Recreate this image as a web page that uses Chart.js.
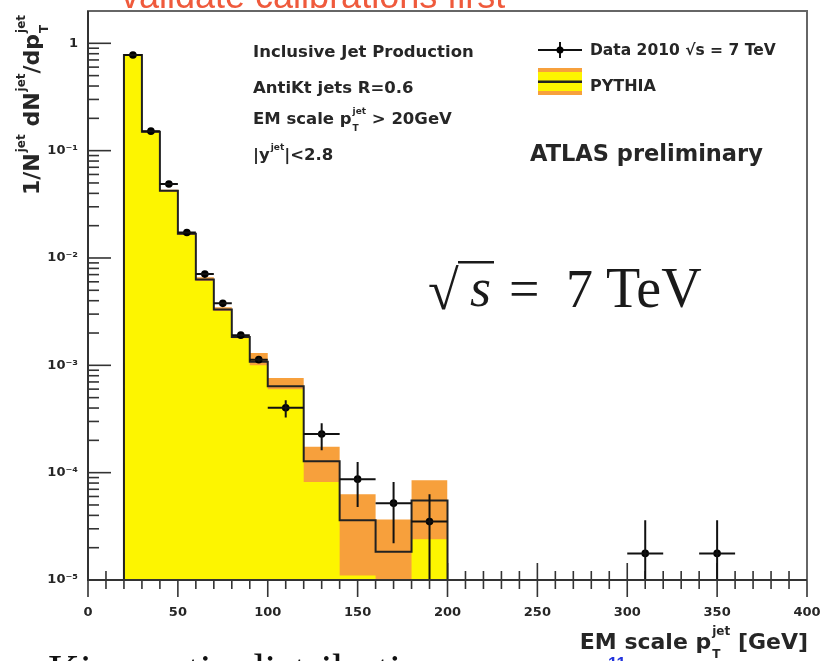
<!DOCTYPE html>
<html><head><meta charset="utf-8">
<script src="https://cdn.jsdelivr.net/npm/chart.js@4.4.1/dist/chart.umd.min.js"></script>
<style>html,body{margin:0;padding:0;background:#fff;}#wrap{width:823px;height:661px;position:relative;overflow:hidden}</style>
</head><body><div id="wrap"><canvas id="c" width="823" height="661"></canvas></div>
<script>
// ---- data ----
const binEdges = [20,30,40,50,60,70,80,90,100,120,140,160,180,200];
const pythia       = [0.78,0.150,0.0423,0.0168,0.0063,0.00332,0.00184,0.00108,0.00064,0.000128,3.6e-5,1.83e-5,5.5e-5];
const pythiaBandLo = [0.765,0.147,0.0413,0.0164,0.0061,0.00320,0.00179,0.00100,0.00060,8.2e-5,1.1e-5,5e-6,2.4e-5];
const pythiaBandHi = [0.795,0.153,0.0433,0.0172,0.0066,0.00348,0.00192,0.00130,0.00076,0.000174,6.3e-5,3.66e-5,8.5e-5];

const dataX    = [25,35,45,55,65,75,85,95,110,130,150,170,190,310,350];
const dataXErr = [5,5,5,5,5,5,5,5,10,10,10,10,10,10,10];
const dataY    = [0.778,0.152,0.0489,0.0173,0.00708,0.00378,0.00191,0.00113,0.000402,0.000229,8.7e-5,5.2e-5,3.5e-5,1.77e-5,1.77e-5];
const dataYHi  = [0.79,0.155,0.0497,0.0176,0.0072,0.00386,0.00196,0.00118,0.000474,0.000288,0.000126,8.2e-5,6.3e-5,3.6e-5,3.6e-5];
const dataYLo  = [0.766,0.149,0.0481,0.0170,0.00696,0.00370,0.00186,0.00108,0.000327,0.000162,4.8e-5,2.2e-5,1e-6,1e-6,1e-6];

const xTickValues = [0,50,100,150,200,250,300,350,400];
const yDecades = [-5,-4,-3,-2,-1,0];

const infoLines = [
  ['Inclusive Jet Production'],
  ['AntiKt jets R=0.6'],
  ['EM scale p', {sup:'jet', sub:'T'}, ' > 20GeV'],
  ['|y', {sup:'jet'}, '|<2.8']
];
const legendData = 'Data 2010 \u221As = 7 TeV';
const legendMC = 'PYTHIA';
const atlasLabel = 'ATLAS preliminary';
const yTitle = ['1/N', {sup:'jet'}, ' dN', {sup:'jet'}, '/dp', {sup:'jet', sub:'T'}];
const xTitle = ['EM scale p', {sup:'jet', sub:'T'}, ' [GeV]'];
const slideTop = 'validate calibrations first';
const slideBottom = 'Kinematic distributions';

// ---- styling ----
const YELLOW = '#fdf500';
const ORANGE = '#f7a03c';
const INK = '#262626';
const SANS = '"DejaVu Sans", sans-serif';
const FLOOR = 1e-7;

function stepPoints(vals){
  const pts = [{x:binEdges[0], y:FLOOR}];
  vals.forEach((v,i)=>pts.push({x:binEdges[i], y:v}));
  pts.push({x:binEdges[binEdges.length-1], y:FLOOR});
  return pts;
}
const SUPS = {'-':'\u207B','0':'\u2070','1':'\u00B9','2':'\u00B2','3':'\u00B3','4':'\u2074','5':'\u2075'};
function supStr(n){ return String(n).split('').map(c=>SUPS[c]).join(''); }

function drawRich(ctx, x, y, parts, size, align, weight){
  weight = weight || 'bold';
  const main = weight+' '+size+'px '+SANS;
  const small = weight+' '+Math.round(size*0.55)+'px '+SANS;
  const widths = parts.map(p=>{
    if (typeof p === 'string'){ ctx.font = main; return ctx.measureText(p).width; }
    ctx.font = small;
    return Math.max(p.sup?ctx.measureText(p.sup).width:0, p.sub?ctx.measureText(p.sub).width:0) + 1;
  });
  const total = widths.reduce((a,b)=>a+b,0);
  let cx = align==='right' ? x-total : align==='center' ? x-total/2 : x;
  ctx.textAlign = 'left'; ctx.textBaseline = 'alphabetic';
  parts.forEach((p,i)=>{
    if (typeof p === 'string'){ ctx.font = main; ctx.fillText(p, cx, y); }
    else {
      ctx.font = small;
      if (p.sup) ctx.fillText(p.sup, cx+1, y - size*0.62);
      if (p.sub) ctx.fillText(p.sub, cx+1, y + size*0.42);
    }
    cx += widths[i];
  });
}

const decor = {
  id:'decor',
  beforeDatasetsDraw(chart){
    const {ctx, chartArea:a, scales:{x, y}} = chart;
    ctx.save();
    ctx.strokeStyle = '#333'; ctx.lineWidth = 1.6;
    for (let v=0; v<=400; v+=10){
      const px = x.getPixelForValue(v);
      const L = v%50===0 ? 17 : 9;
      ctx.beginPath(); ctx.moveTo(px, a.bottom-L); ctx.lineTo(px, a.bottom+L); ctx.stroke();
    }
    yDecades.forEach(d=>{
      for (let m=1; m<=9; m++){
        const v = m*Math.pow(10,d);
        if (v>2) continue;
        const py = y.getPixelForValue(v);
        const L = m===1 ? 23 : 11;
        ctx.beginPath(); ctx.moveTo(a.left, py); ctx.lineTo(a.left+L, py); ctx.stroke();
      }
    });
    ctx.restore();
  },
  afterDatasetsDraw(chart){
    const {ctx, chartArea:a, scales:{x, y}} = chart;
    ctx.save();
    ctx.beginPath(); ctx.rect(a.left, a.top, a.width, a.height); ctx.clip();
    ctx.strokeStyle = '#111'; ctx.lineWidth = 2;
    dataX.forEach((xv,i)=>{
      const px = x.getPixelForValue(xv), py = y.getPixelForValue(dataY[i]);
      ctx.beginPath();
      ctx.moveTo(x.getPixelForValue(xv-dataXErr[i]), py); ctx.lineTo(x.getPixelForValue(xv+dataXErr[i]), py);
      ctx.moveTo(px, y.getPixelForValue(dataYHi[i])); ctx.lineTo(px, y.getPixelForValue(dataYLo[i]));
      ctx.stroke();
    });
    ctx.restore();
    ctx.save();
    ctx.strokeStyle = '#666'; ctx.lineWidth = 2;
    ctx.strokeRect(a.left, a.top, a.width, a.height);
    ctx.strokeStyle = '#333';
    ctx.beginPath(); ctx.moveTo(a.left, a.top); ctx.lineTo(a.left, a.bottom); ctx.lineTo(a.right, a.bottom); ctx.stroke();
    ctx.restore();
  },
  afterDraw(chart){
    const ctx = chart.ctx;
    ctx.save();
    ctx.fillStyle = INK;
    const infoY = [57, 93, 124, 160];
    infoLines.forEach((parts,i)=>drawRich(ctx, 253, infoY[i], parts, 16.5, 'left'));
    // legend: data
    ctx.strokeStyle = '#111'; ctx.lineWidth = 2;
    ctx.beginPath(); ctx.moveTo(538,50); ctx.lineTo(582,50); ctx.moveTo(560,42); ctx.lineTo(560,58); ctx.stroke();
    ctx.beginPath(); ctx.arc(560,50,3.5,0,Math.PI*2); ctx.fillStyle='#000'; ctx.fill();
    ctx.fillStyle = INK;
    drawRich(ctx, 590, 55, [legendData], 15.5, 'left');
    // legend: pythia
    ctx.fillStyle = ORANGE; ctx.fillRect(538,68,44,27);
    ctx.fillStyle = YELLOW; ctx.fillRect(538,72,44,19);
    ctx.fillStyle = '#222'; ctx.fillRect(538,80.5,44,2.5);
    ctx.fillStyle = INK;
    drawRich(ctx, 590, 91, [legendMC], 16, 'left');
    drawRich(ctx, 530, 161, [atlasLabel], 22.5, 'left');
    // sqrt(s) = 7 TeV
    ctx.fillStyle = '#1a1a1a';
    ctx.textBaseline = 'alphabetic'; ctx.textAlign = 'left';
    ctx.font = '56px "Liberation Serif", serif';
    ctx.fillText('\u221A', 428, 309);
    ctx.font = 'italic 54px "Liberation Serif", serif';
    ctx.fillText('s', 470, 306);
    ctx.fillRect(458, 261, 36, 2.5);
    ctx.font = '54px "Liberation Serif", serif';
    ctx.fillText('=', 509, 307);
    ctx.fillText('7', 566, 307);
    ctx.font = '56px "Liberation Serif", serif';
    ctx.fillText('TeV', 606, 307);
    // axis titles
    ctx.fillStyle = INK;
    drawRich(ctx, 808, 649, xTitle, 22, 'right');
    ctx.save();
    ctx.translate(39, 195); ctx.rotate(-Math.PI/2);
    drawRich(ctx, 0, 0, yTitle, 22, 'left');
    ctx.restore();
    // clipped slide text
    ctx.fillStyle = '#ef5a3c';
    ctx.font = '36px "Liberation Sans", sans-serif';
    ctx.fillText(slideTop, 121, 8);
    ctx.fillStyle = '#111';
    ctx.font = '44px "Liberation Serif", serif';
    ctx.fillText(slideBottom, 48, 685);
    ctx.fillStyle = '#2233dd';
    ctx.font = 'bold 17px "Liberation Sans", sans-serif';
    ctx.fillText('11', 608, 669);
    ctx.restore();
  }
};

function noPad(s){ s.paddingLeft = 0; s.paddingRight = 0; s.paddingTop = 0; s.paddingBottom = 0; }

new Chart(document.getElementById('c'), {
  type:'line',
  data:{ datasets:[
    { label:'PYTHIA uncertainty', data:stepPoints(pythiaBandHi), stepped:true, fill:'start', backgroundColor:ORANGE, borderColor:'rgba(0,0,0,0)', borderWidth:0, pointRadius:0, order:4 },
    { label:'PYTHIA', data:stepPoints(pythiaBandLo), stepped:true, fill:'start', backgroundColor:YELLOW, borderColor:'rgba(0,0,0,0)', borderWidth:0, pointRadius:0, order:3 },
    { label:'PYTHIA central', data:stepPoints(pythia), stepped:true, fill:false, borderColor:'#222', borderWidth:2, pointRadius:0, order:2 },
    { label:'Data 2010', data:dataX.map((x,i)=>({x, y:dataY[i]})), showLine:false, pointRadius:3.8, pointBackgroundColor:'#000', pointBorderWidth:0, order:1 }
  ]},
  options:{
    responsive:false, animation:false, devicePixelRatio:1,
    layout:{ padding:{ top:11, right:16, left:0, bottom:0 } },
    plugins:{ legend:{display:false}, tooltip:{enabled:false} },
    scales:{
      x:{ type:'linear', min:0, max:400,
        afterBuildTicks(s){ s.ticks = xTickValues.map(v=>({value:v})); },
        ticks:{ autoSkip:false, maxRotation:0, padding:25, color:INK, font:{family:SANS, weight:'bold', size:13} },
        grid:{ display:false, drawTicks:false }, border:{ display:false },
        afterFit(s){ s.height = 81; noPad(s); } },
      y:{ type:'logarithmic', min:1e-5, max:2,
        ticks:{ autoSkip:false, padding:10, color:INK, font:{family:SANS, weight:'bold', size:13},
          callback(v){ const e = Math.log10(v); if (Math.abs(e-Math.round(e))>1e-6) return ''; const r=Math.round(e); return r===0 ? '1' : '10'+supStr(r); } },
        grid:{ display:false, drawTicks:false }, border:{ display:false },
        afterFit(s){ s.width = 88; noPad(s); } }
    }
  },
  plugins:[decor]
});
</script></body></html>
